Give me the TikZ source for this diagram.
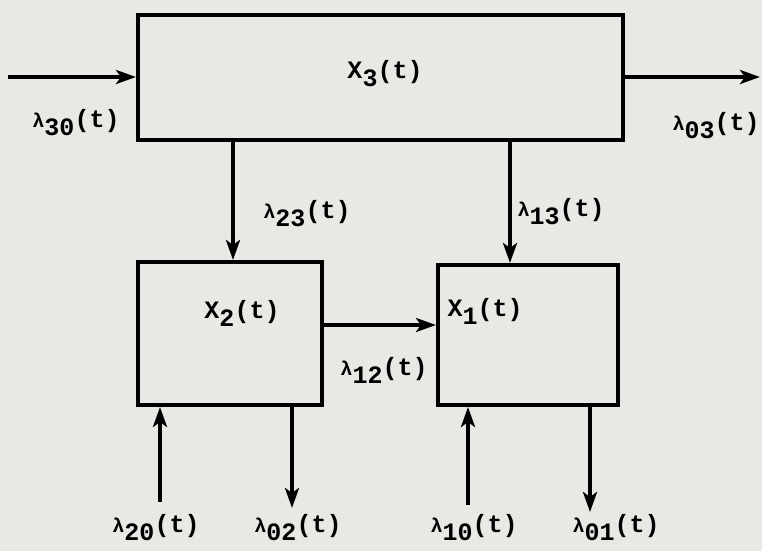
\documentclass[tikz,border=0pt]{standalone}
\usepackage{fontspec}
\setmainfont{Liberation Mono}
\usetikzlibrary{arrows.meta}
\definecolor{paper}{RGB}{232,232,229}
\newcommand{\lam}[1]{{\fontsize{20}{22}\selectfont λ}\raisebox{-0.6ex}{#1}(t)}
\newcommand{\xv}[1]{X\raisebox{-0.6ex}{#1}(t)}
\begin{document}
\begin{tikzpicture}[x=1pt,y=-1pt,
  box/.style={draw,line width=4pt,inner sep=0pt},
  arr/.style={line width=4pt,-{Stealth[length=20pt,width=14pt,inset=5pt]}},
  lbl/.style={font=\fontsize{25}{28}\selectfont\bfseries,inner sep=0pt}]
\fill[paper] (0,0) rectangle (762,551);
\useasboundingbox (0,0) rectangle (762,551);
\node[box,minimum width=485pt,minimum height=125pt] (b3) at (380.5,77.5) {};
\node[box,minimum width=184pt,minimum height=143pt] (b2) at (230,333.5) {};
\node[box,minimum width=180pt,minimum height=140pt] (b1) at (528,335) {};
\node[lbl] (t3) at (385,74) {\xv{3}};
\node[lbl] (t2) at (242,313) {\xv{2}};
\node[lbl] (t1) at (485,311) {\xv{1}};
\coordinate (in3) at (8,77);
\coordinate (out3) at (760,77);
\coordinate (c23) at (233,0);
\coordinate (c13) at (510,0);
\coordinate (c12) at (0,325);
\coordinate (s20) at (160,502);
\coordinate (e02) at (292,508);
\coordinate (s10) at (468,505);
\coordinate (e01) at (590,512);
\draw[arr] (in3) -- (b3.west |- in3);
\draw[arr] (b3.east |- out3) -- (out3);
\draw[arr] (b3.south -| c23) -- (b2.north -| c23);
\draw[arr] (b3.south -| c13) -- (b1.north -| c13);
\draw[arr] (b2.east |- c12) -- (b1.west |- c12);
\draw[arr] (s20) -- (b2.south -| s20);
\draw[arr] (b2.south -| e02) -- (e02);
\draw[arr] (s10) -- (b1.south -| s10);
\draw[arr] (b1.south -| e01) -- (e01);
\node[lbl] (l30) at (76,123) {\lam{30}};
\node[lbl] (l03) at (716,126) {\lam{03}};
\node[lbl] (l23) at (307,214) {\lam{23}};
\node[lbl] (l13) at (561,212) {\lam{13}};
\node[lbl] (l12) at (384,370) {\lam{12}};
\node[lbl] (l20) at (156,528) {\lam{20}};
\node[lbl] (l02) at (298,528) {\lam{02}};
\node[lbl] (l10) at (474,528) {\lam{10}};
\node[lbl] (l01) at (616,528) {\lam{01}};
\end{tikzpicture}
\end{document}
